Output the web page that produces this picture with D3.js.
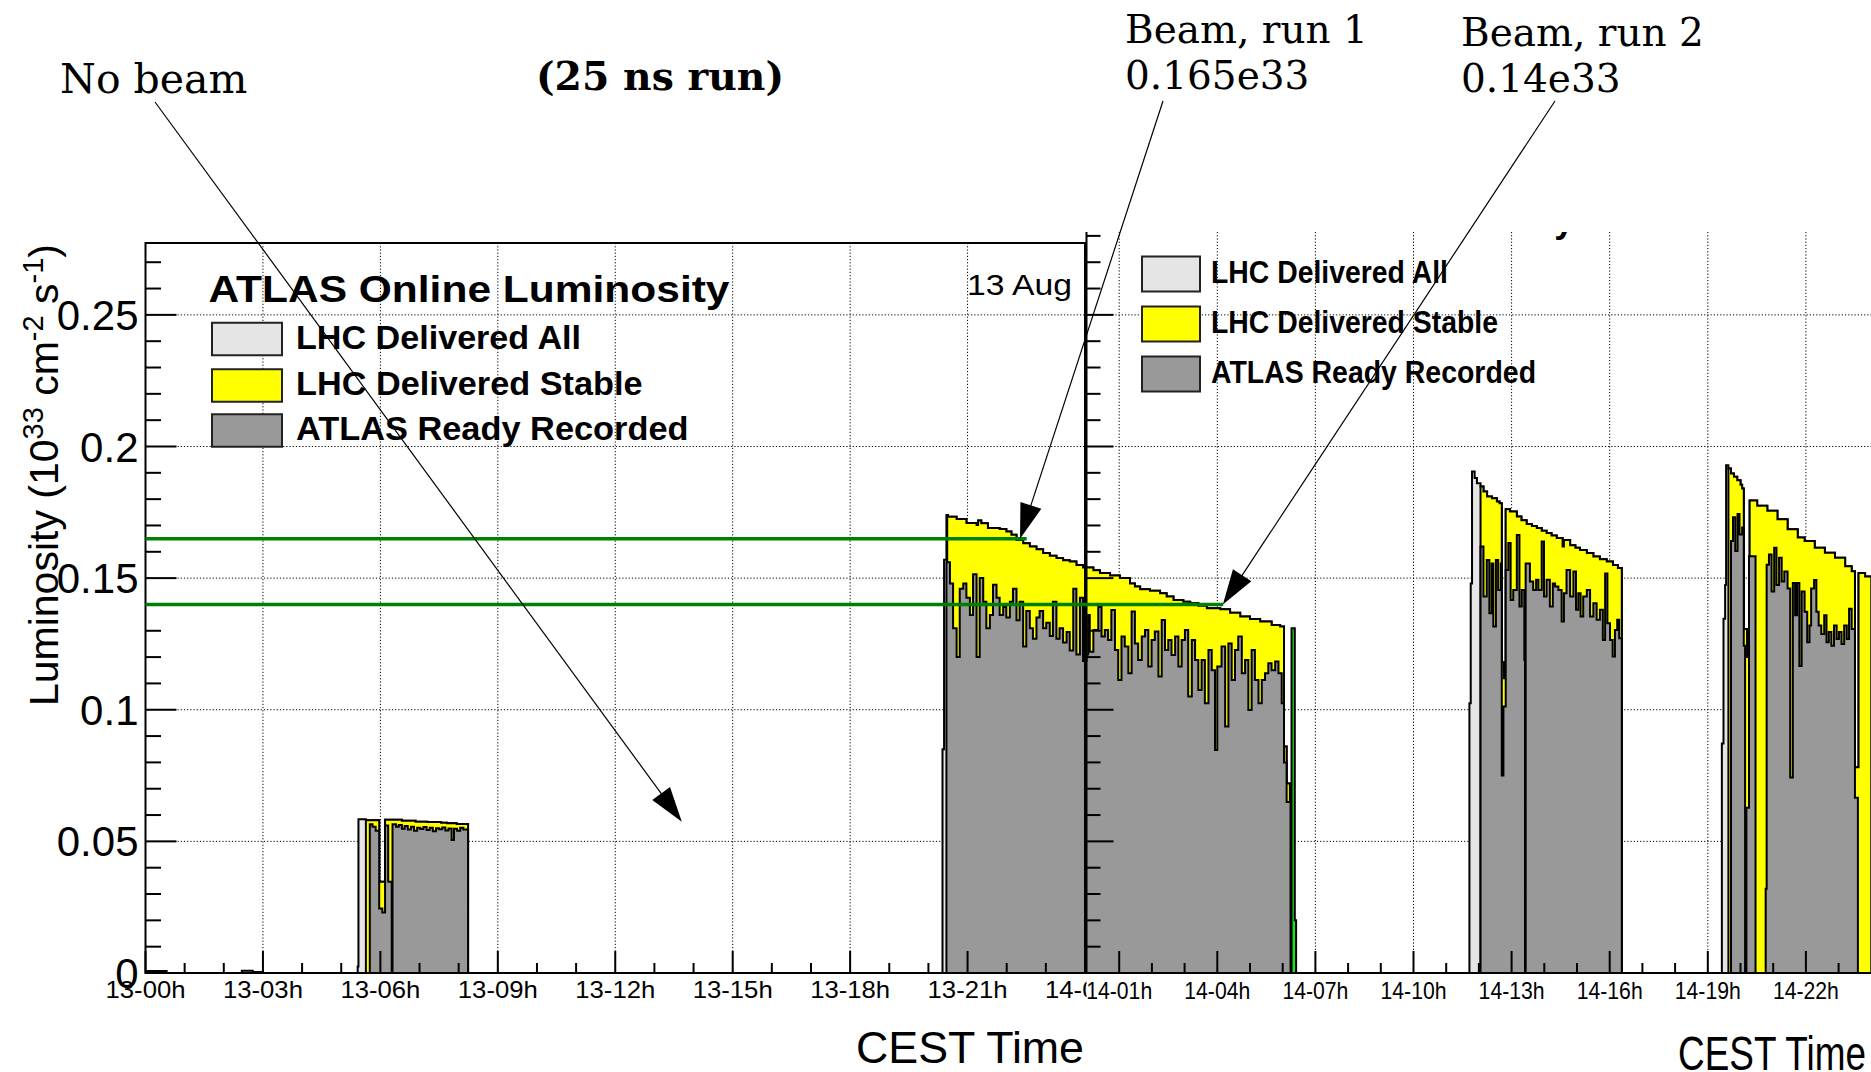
<!DOCTYPE html>
<html>
<head>
<meta charset="utf-8">
<script src="https://cdn.jsdelivr.net/npm/d3@7"></script>
<style>
  html, body { margin: 0; padding: 0; background: #fff; }
  svg { display: block; }
</style>
</head>
<body>
<svg id="chart" width="1871" height="1072"></svg>
<script>
// ---------------- data (time in hours since 13 Aug 00:00, luminosity in 1e33 cm^-2 s^-1) ----------------
const leftTickHours  = [0, 3, 6, 9, 12, 15, 18, 21, 24];
const leftTickLabels = ["13-00h", "13-03h", "13-06h", "13-09h", "13-12h", "13-15h", "13-18h", "13-21h", "14-00h"];
const rightTickHours  = [25, 28, 31, 34, 37, 40, 43, 46];
const rightTickLabels = ["14-01h", "14-04h", "14-07h", "14-10h", "14-13h", "14-16h", "14-19h", "14-22h"];
const yTickValues = [0, 0.05, 0.1, 0.15, 0.2, 0.25];
const yTickLabels = ["0", "0.05", "0.1", "0.15", "0.2", "0.25"];
const legendLabels = ["LHC Delivered All", "LHC Delivered Stable", "ATLAS Ready Recorded"];
const legendColors = ["#e5e5e5", "#ffff00", "#999999"];

// beam delivered while not declared stable: [start hour, value] steps, 0 closes a step
const beamNotStable = [
  [0.00, 0.0008], [0.54, 0], [2.46, 0.0009], [2.74, 0.0004], [3.00, 0],
  [5.42, 0.0025], [5.44, 0.0584], [5.63, 0],
  [20.36, 0.085], [20.40, 0.157], [20.46, 0.174], [20.50, 0],
  [35.71, 0.1025], [35.75, 0.148], [35.79, 0.1905], [35.87, 0.188], [35.94, 0.186], [36.05, 0],
  [43.43, 0.0872], [43.48, 0.1346], [43.53, 0.1474], [43.56, 0.1929], [43.63, 0]
];

// stable beams, fill 1..4
const stableFill0 = [
  [5.63, 0.0580], [5.97, 0.0347], [6.12, 0.0582], [6.55, 0.0578], [6.90, 0.0575], [7.20, 0.0574],
  [7.55, 0.0571], [7.70, 0.0569], [7.95, 0.0566], [8.24, 0]
];
const stableFill1 = [
  [20.48, 0.1733], [20.72, 0.1725], [20.97, 0.1709], [21.23, 0.1702], [21.27, 0.1719], [21.35, 0.1708],
  [21.52, 0.1690], [21.82, 0.1687], [21.99, 0.1677], [22.12, 0.1665], [22.25, 0.1645], [22.42, 0.1632],
  [22.59, 0.1620], [22.76, 0.1610], [22.93, 0.1595], [23.10, 0.1585], [23.27, 0.1576], [23.44, 0.1568],
  [23.61, 0.1563], [23.78, 0.1550], [23.95, 0.1540], [24.21, 0.1530], [24.41, 0.1519], [24.72, 0.1510],
  [25.02, 0.1500], [25.33, 0.1480], [25.48, 0.1468], [25.64, 0.1458], [25.94, 0.1452], [26.25, 0.1443],
  [26.45, 0.1430], [26.66, 0.1417], [26.96, 0.1410], [27.17, 0.1405], [27.42, 0.1395], [27.68, 0.1386],
  [28.09, 0.1382], [28.39, 0.1368], [28.70, 0.1354], [29.00, 0.1345], [29.31, 0.1335], [29.66, 0.1322],
  [29.92, 0.1316], [30.04, 0.0860], [30.12, 0.0720], [30.22, 0]
];
const stableFill2 = [
  [36.05, 0.1848], [36.14, 0.1829], [36.25, 0.1810], [36.40, 0.1803], [36.55, 0.1791], [36.63, 0.1784],
  [36.70, 0.1180], [36.76, 0.1120], [36.82, 0.1762], [36.95, 0.1753], [37.16, 0.1734], [37.30, 0.1720],
  [37.46, 0.1706], [37.62, 0.1698], [37.77, 0.1690], [37.92, 0.1680], [38.07, 0.1671], [38.22, 0.1662],
  [38.38, 0.1652], [38.56, 0.1620], [38.60, 0.1645], [38.79, 0.1625], [38.95, 0.1615], [39.09, 0.1607],
  [39.30, 0.1595], [39.50, 0.1582], [39.70, 0.1572], [39.91, 0.1563], [40.10, 0.1550], [40.25, 0.1538],
  [40.37, 0]
];
const stableFill3 = [
  [43.63, 0.1916], [43.71, 0.1897], [43.80, 0.1885], [43.90, 0.1872], [44.00, 0.1855], [44.05, 0.1840],
  [44.10, 0.1307], [44.20, 0.1200], [44.28, 0.1795], [44.51, 0.1775], [44.82, 0.1756], [45.13, 0.1724],
  [45.44, 0.1686], [45.75, 0.1654], [45.96, 0.1641], [46.27, 0.1615], [46.58, 0.1596], [46.89, 0.1577],
  [47.20, 0.1545], [47.40, 0.1526], [47.50, 0.0782], [47.61, 0.1519], [47.81, 0.1506], [48.00, 0]
];

// ATLAS ready recorded, fill 1..4
const recordedFill0 = [
  [5.73, 0.0565], [5.80, 0.0556], [5.88, 0.0540], [5.97, 0.0245], [6.05, 0.0230], [6.12, 0.0560],
  [6.20, 0.0347], [6.29, 0], [6.31, 0.0565], [6.40, 0.0556], [6.47, 0.0562], [6.55, 0.0548],
  [6.62, 0.0558], [6.70, 0.0545], [6.78, 0.0556], [6.86, 0.0540], [6.94, 0.0552], [7.02, 0.0547],
  [7.10, 0.0555], [7.18, 0.0543], [7.26, 0.0552], [7.34, 0.0538], [7.42, 0.0550], [7.50, 0.0546],
  [7.58, 0.0553], [7.66, 0.0541], [7.74, 0.0549], [7.82, 0.0505], [7.88, 0.0548], [7.96, 0.0540],
  [8.04, 0.0552], [8.12, 0.0545], [8.24, 0]
];
const recordedFill1 = [
  [20.46, 0.156], [20.55, 0.148], [20.63, 0.131], [20.72, 0.120], [20.80, 0.146], [20.89, 0.148],
  [20.97, 0.1425], [21.06, 0.136], [21.14, 0.1515], [21.23, 0.120], [21.31, 0.150], [21.40, 0.141],
  [21.48, 0.131], [21.57, 0.136], [21.65, 0.1475], [21.74, 0.1425], [21.82, 0.136], [21.91, 0.139],
  [21.99, 0.135], [22.08, 0.141], [22.16, 0.146], [22.25, 0.134], [22.33, 0.141], [22.42, 0.124],
  [22.50, 0.1375], [22.59, 0.131], [22.67, 0.127], [22.76, 0.135], [22.84, 0.1375], [22.93, 0.131],
  [23.01, 0.133], [23.10, 0.128], [23.18, 0.141], [23.27, 0.127], [23.35, 0.131], [23.44, 0.1255],
  [23.53, 0.1295], [23.61, 0.1225], [23.70, 0.146], [23.78, 0.121], [23.87, 0.1425], [23.95, 0.1185],
  [24.00, 0.121], [24.05, 0.136], [24.10, 0.122], [24.21, 0.1303], [24.36, 0.139], [24.46, 0.1278],
  [24.56, 0.1303], [24.66, 0.1265], [24.76, 0.1379], [24.87, 0.1227], [24.97, 0.1113], [25.07, 0.1278],
  [25.17, 0.1240], [25.28, 0.1139], [25.38, 0.1373], [25.48, 0.1252], [25.58, 0.1189], [25.69, 0.1278],
  [25.79, 0.1303], [25.89, 0.1164], [25.99, 0.1265], [26.09, 0.1297], [26.20, 0.1126], [26.30, 0.1341],
  [26.40, 0.1227], [26.50, 0.1265], [26.60, 0.1208], [26.71, 0.1278], [26.81, 0.1164], [26.91, 0.1265],
  [27.01, 0.1303], [27.11, 0.1050], [27.22, 0.1265], [27.32, 0.1189], [27.42, 0.1075], [27.52, 0.1189],
  [27.62, 0.1025], [27.73, 0.1227], [27.83, 0.1150], [27.93, 0.0847], [28.00, 0.1164], [28.13, 0.1240],
  [28.24, 0.0936], [28.34, 0.1252], [28.44, 0.1113], [28.54, 0.1227], [28.64, 0.1278], [28.75, 0.1139],
  [28.85, 0.1189], [28.95, 0.0999], [29.05, 0.1227], [29.15, 0.1113], [29.26, 0.1025], [29.36, 0.1113],
  [29.46, 0.1139], [29.56, 0.1177], [29.66, 0.1150], [29.77, 0.1183], [29.87, 0.1139], [29.97, 0.1025],
  [30.04, 0.0800], [30.12, 0.0650], [30.24, 0]
];
const recordedFill2 = [
  [36.05, 0.1620], [36.14, 0.1430], [36.24, 0.1569], [36.32, 0.1367], [36.39, 0.1556], [36.44, 0.1316],
  [36.52, 0.1569], [36.59, 0.1455], [36.67, 0.1556], [36.70, 0.0750], [36.75, 0.1012], [36.82, 0.1531],
  [36.90, 0.1633], [36.97, 0.1417], [37.05, 0.1455], [37.16, 0.1664], [37.24, 0.1392], [37.31, 0.1455],
  [37.39, 0.1189], [37.41, 0], [37.43, 0.1556], [37.56, 0.1487], [37.66, 0.1455], [37.75, 0.1494],
  [37.82, 0.1455], [37.92, 0.1639], [37.99, 0.1430], [38.07, 0.1494], [38.17, 0.1392], [38.26, 0.1480],
  [38.33, 0.1468], [38.43, 0.1455], [38.53, 0.1335], [38.60, 0.1443], [38.68, 0.1531], [38.79, 0.1430],
  [38.89, 0.1525], [38.97, 0.1380], [39.04, 0.1443], [39.11, 0.1354], [39.19, 0.1430], [39.30, 0.1455],
  [39.40, 0.1354], [39.50, 0.1405], [39.60, 0.1342], [39.70, 0.1380], [39.79, 0.1265], [39.86, 0.1518],
  [39.93, 0.1329], [40.01, 0.1265], [40.09, 0.1202], [40.16, 0.1303], [40.23, 0.1342], [40.29, 0.1272],
  [40.37, 0]
];
const recordedFill3 = [
  [43.71, 0.1641], [43.77, 0.1731], [43.84, 0.1603], [43.91, 0.1744], [43.97, 0.1666], [44.05, 0.1692],
  [44.10, 0.1243], [44.14, 0], [44.18, 0.0628], [44.26, 0.1583], [44.46, 0],
  [44.77, 0.0320], [44.80, 0.1551], [44.87, 0.1590], [44.95, 0.1449], [45.03, 0.1615], [45.10, 0.1474],
  [45.18, 0.1577], [45.26, 0.1487], [45.34, 0.1525], [45.44, 0.1461], [45.52, 0.0743], [45.60, 0.1481],
  [45.67, 0.1359], [45.73, 0.1481], [45.80, 0.1166], [45.87, 0.1449], [45.96, 0.1372], [46.04, 0.1256],
  [46.11, 0.1320], [46.16, 0.1461], [46.25, 0.1493], [46.32, 0.1372], [46.39, 0.1320], [46.47, 0.1288],
  [46.56, 0.1359], [46.63, 0.1256], [46.70, 0.1295], [46.78, 0.1243], [46.86, 0.1320], [46.94, 0.1269],
  [47.01, 0.1295], [47.09, 0.1250], [47.17, 0.1320], [47.25, 0.1269], [47.32, 0.1384], [47.40, 0.1307],
  [47.50, 0.0666], [47.59, 0]
];

// highlighted bin at the end of the first long fill
const highlightBin = [[30.27, 0.131], [30.37, 0.020], [30.41, 0]];

// beam levels quoted in the notes
const beamLevels = [0.165, 0.14];
const run1LineEnd = 22.51;   // hours, left panel
const run2LineEnd = 28.18;   // hours, right panel
const noBeamTip = [13.70, 0.0575];
const run1Tip = [22.34, 0.165];
const run2Tip = [28.17, 0.14];

// ---------------- helpers ----------------
function valueAt(steps, t) {
  let v = 0;
  for (const [tt, vv] of steps) { if (tt <= t) v = vv; else break; }
  return v;
}
function mergeMax(a, b) {
  const ts = Array.from(new Set([...a, ...b].map(d => d[0]))).sort((p, q) => p - q);
  return ts.map(t => [t, Math.max(valueAt(a, t), valueAt(b, t))]);
}
function stretch(sel, w) {
  return sel.attr("textLength", w).attr("lengthAdjust", "spacingAndGlyphs");
}

const stableAll = [...stableFill0, ...stableFill1, ...stableFill2, ...stableFill3];
const recordedAll = [...recordedFill0, ...recordedFill1, ...recordedFill2, ...recordedFill3];
const deliveredAll = mergeMax(beamNotStable, stableAll);

// ---------------- scales ----------------
const svg = d3.select("#chart");
const yBottom = 973, yTopLeft = 243, rightCropTop = 232;
const xL = d3.scaleLinear().domain([0, 24]).range([145.5, 1085]);
const xR = d3.scaleLinear().domain([24, 48]).range([1086.5, 1871.3]);
const y = d3.scaleLinear().domain([0, 0.2773]).range([yBottom, yTopLeft]);

const SANS = "'Liberation Sans', Arial, Helvetica, sans-serif";
const SERIF = "'DejaVu Serif', serif";

const defs = svg.append("defs");
defs.append("clipPath").attr("id", "clipLeft").append("rect")
  .attr("x", xL(0)).attr("y", yTopLeft).attr("width", xL(24) - xL(0)).attr("height", yBottom - yTopLeft);
defs.append("clipPath").attr("id", "clipRight").append("rect")
  .attr("x", xR(24)).attr("y", rightCropTop).attr("width", xR(48) - xR(24)).attr("height", yBottom - rightCropTop);
defs.append("clipPath").attr("id", "clipRightTitle").append("rect")
  .attr("x", xR(24)).attr("y", rightCropTop).attr("width", 800).attr("height", 40);

svg.append("rect").attr("width", 1871).attr("height", 1072).attr("fill", "#fff");

function drawHistograms(g, x) {
  const area = d3.area().curve(d3.curveStepAfter)
    .x(d => x(d[0])).y0(y(0)).y1(d => y(d[1]));
  const specs = [
    [deliveredAll, legendColors[0]],
    [stableAll, legendColors[1]],
    [recordedAll, legendColors[2]],
    [highlightBin, "#22dd22"]
  ];
  specs.forEach(([data, color]) => {
    g.append("path").attr("d", area(data))
      .attr("fill", color).attr("stroke", "#000").attr("stroke-width", 2)
      .attr("stroke-linejoin", "miter");
  });
}

function drawGrid(g, x, hours, x0, x1, yTop) {
  const dash = "1.2,2";
  hours.forEach(h => {
    g.append("line").attr("x1", x(h)).attr("x2", x(h)).attr("y1", yTop).attr("y2", yBottom)
      .attr("stroke", "#000").attr("stroke-width", 1).attr("stroke-dasharray", dash);
  });
  yTickValues.filter(v => v > 0).forEach(v => {
    g.append("line").attr("x1", x0).attr("x2", x1).attr("y1", y(v)).attr("y2", y(v))
      .attr("stroke", "#000").attr("stroke-width", 1).attr("stroke-dasharray", dash);
  });
}

function drawLegend(g, bx, bw, bh, rows, tx, fontSize, widths) {
  legendLabels.forEach((lab, i) => {
    g.append("rect").attr("x", bx).attr("y", rows[i] - bh / 2).attr("width", bw).attr("height", bh)
      .attr("fill", legendColors[i]).attr("stroke", "#222").attr("stroke-width", 2);
    stretch(g.append("text").attr("x", tx).attr("y", rows[i] + fontSize * 0.30)
      .attr("font-family", SANS).attr("font-weight", "bold").attr("font-size", fontSize)
      .text(lab), widths[i]);
  });
}

// ---------------- left panel: 13 Aug ----------------
const left = svg.append("g");
drawGrid(left, xL, [3, 6, 9, 12, 15, 18, 21], xL(0), xL(24), yTopLeft);
drawHistograms(left.append("g").attr("clip-path", "url(#clipLeft)"), xL);
left.append("rect").attr("x", xL(0)).attr("y", yTopLeft).attr("width", xL(24) - xL(0))
  .attr("height", yBottom - yTopLeft).attr("fill", "none").attr("stroke", "#000").attr("stroke-width", 2);

// y ticks (inward) and labels
d3.range(0, 0.2701, 0.01).forEach((v, i) => {
  const major = i % 5 === 0;
  left.append("line").attr("x1", xL(0)).attr("x2", xL(0) + (major ? 31 : 15.5))
    .attr("y1", y(v)).attr("y2", y(v)).attr("stroke", "#000").attr("stroke-width", 2);
});
yTickValues.forEach((v, i) => {
  left.append("text").attr("x", xL(0) - 7).attr("y", y(v)).attr("dy", "0.36em")
    .attr("text-anchor", "end").attr("font-family", SANS).attr("font-size", 42).text(yTickLabels[i]);
});
// x ticks and labels
d3.range(0, 25).forEach(h => {
  const major = h % 3 === 0;
  left.append("line").attr("x1", xL(h)).attr("x2", xL(h)).attr("y1", yBottom)
    .attr("y2", yBottom - (major ? 22 : 10)).attr("stroke", "#000").attr("stroke-width", 2);
});
leftTickHours.forEach((h, i) => {
  stretch(left.append("text").attr("x", xL(h)).attr("y", 998).attr("text-anchor", "middle")
    .attr("font-family", SANS).attr("font-size", 24).text(leftTickLabels[i]), 80);
});
stretch(left.append("text").attr("x", 1084).attr("y", 1063).attr("text-anchor", "end")
  .attr("font-family", SANS).attr("font-size", 44).text("CEST Time"), 228);

// y axis title
const yTitle = left.append("text").attr("transform", "translate(58,244) rotate(-90)")
  .attr("text-anchor", "end").attr("font-family", SANS).attr("font-size", 41);
yTitle.append("tspan").text("Luminosity (10");
yTitle.append("tspan").attr("dy", -15).attr("font-size", 29).text("33");
yTitle.append("tspan").attr("dy", 15).text(" cm");
yTitle.append("tspan").attr("dy", -15).attr("font-size", 29).text("-2");
yTitle.append("tspan").attr("dy", 15).text(" s");
yTitle.append("tspan").attr("dy", -15).attr("font-size", 29).text("-1");
yTitle.append("tspan").attr("dy", 15).text(")");

// title, legend, date
stretch(left.append("text").attr("x", 208.5).attr("y", 301.5).attr("font-family", SANS)
  .attr("font-weight", "bold").attr("font-size", 37).text("ATLAS Online Luminosity"), 521);
drawLegend(left, 212, 70, 32.5, [339, 385.5, 430.5], 296, 32.5, [285, 346.5, 392.5]);
stretch(left.append("text").attr("x", 967).attr("y", 295).attr("font-family", SANS)
  .attr("font-size", 29).text("13 Aug"), 105);

// ---------------- right panel: 14 Aug ----------------
const right = svg.append("g");
right.append("rect").attr("x", xR(24)).attr("y", rightCropTop).attr("width", xR(48) - xR(24) + 2)
  .attr("height", 1072 - rightCropTop).attr("fill", "#fff");
drawGrid(right, xR, rightTickHours, xR(24), xR(48), rightCropTop);
drawHistograms(right.append("g").attr("clip-path", "url(#clipRight)"), xR);
right.append("line").attr("x1", xR(24)).attr("x2", xR(24)).attr("y1", rightCropTop).attr("y2", yBottom + 1)
  .attr("stroke", "#000").attr("stroke-width", 2);
right.append("line").attr("x1", xR(24)).attr("x2", xR(48)).attr("y1", yBottom).attr("y2", yBottom)
  .attr("stroke", "#000").attr("stroke-width", 2);
d3.range(0, 0.2801, 0.01).forEach((v, i) => {
  const major = i % 5 === 0;
  right.append("line").attr("x1", xR(24)).attr("x2", xR(24) + (major ? 27 : 14))
    .attr("y1", y(v)).attr("y2", y(v)).attr("stroke", "#000").attr("stroke-width", 2);
});
d3.range(25, 48).forEach(h => {
  const major = (h - 25) % 3 === 0;
  right.append("line").attr("x1", xR(h)).attr("x2", xR(h)).attr("y1", yBottom)
    .attr("y2", yBottom - (major ? 22 : 10)).attr("stroke", "#000").attr("stroke-width", 2);
});
rightTickHours.forEach((h, i) => {
  stretch(right.append("text").attr("x", xR(h)).attr("y", 999).attr("text-anchor", "middle")
    .attr("font-family", SANS).attr("font-size", 24).text(rightTickLabels[i]), 66);
});
stretch(right.append("text").attr("x", 1866).attr("y", 1070).attr("text-anchor", "end")
  .attr("font-family", SANS).attr("font-size", 48).text("CEST Time"), 188);
stretch(right.append("text").attr("x", 1139).attr("y", 232).attr("clip-path", "url(#clipRightTitle)")
  .attr("font-family", SANS).attr("font-weight", "bold").attr("font-size", 37)
  .text("ATLAS Online Luminosity"), 435);
drawLegend(right, 1142, 58, 35, [274, 324, 374], 1211, 30.5, [237, 287, 325]);

// ---------------- notes ----------------
const notes = svg.append("g");
beamLevels.forEach((v, i) => {
  const xEnd = i === 0 ? xL(run1LineEnd) : xR(run2LineEnd);
  notes.append("line").attr("x1", xL(0)).attr("x2", xEnd).attr("y1", y(v)).attr("y2", y(v))
    .attr("stroke", "#008000").attr("stroke-width", 3.5);
});

function arrow(tail, tip) {
  const dx = tip[0] - tail[0], dy = tip[1] - tail[1], len = Math.hypot(dx, dy);
  const ux = dx / len, uy = dy / len, hl = 35, hw = 11;
  const bx = tip[0] - ux * hl, by = tip[1] - uy * hl;
  notes.append("line").attr("x1", tail[0]).attr("y1", tail[1]).attr("x2", bx + ux * 4).attr("y2", by + uy * 4)
    .attr("stroke", "#000").attr("stroke-width", 1.2);
  notes.append("path")
    .attr("d", `M${tip[0]},${tip[1]}L${bx - uy * hw},${by + ux * hw}L${bx + uy * hw},${by - ux * hw}Z`)
    .attr("fill", "#000");
}
arrow([155, 102], [xL(noBeamTip[0]), y(noBeamTip[1])]);
arrow([1163, 101], [xL(run1Tip[0]), y(run1Tip[1])]);
arrow([1555, 101], [xR(run2Tip[0]), y(run2Tip[1])]);

notes.append("text").attr("x", 60).attr("y", 93).attr("font-family", SERIF).attr("font-size", 41).text("No beam");
stretch(notes.append("text").attr("x", 536).attr("y", 90).attr("font-family", SERIF).attr("font-weight", "bold")
  .attr("font-size", 39).text("(25 ns run)"), 248);
notes.append("text").attr("x", 1125).attr("y", 43).attr("font-family", SERIF).attr("font-size", 39).text("Beam, run 1");
notes.append("text").attr("x", 1125).attr("y", 89).attr("font-family", SERIF).attr("font-size", 39).text("0.165e33");
notes.append("text").attr("x", 1461).attr("y", 46).attr("font-family", SERIF).attr("font-size", 39).text("Beam, run 2");
notes.append("text").attr("x", 1461).attr("y", 92).attr("font-family", SERIF).attr("font-size", 39).text("0.14e33");
</script>
</body>
</html>
